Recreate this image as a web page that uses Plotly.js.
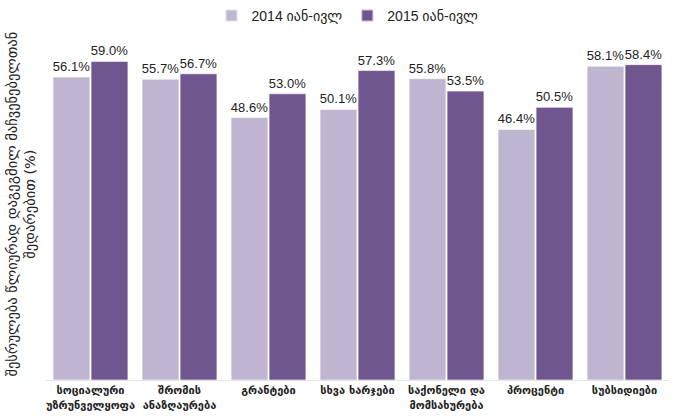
<!DOCTYPE html>
<html>
<head>
<meta charset="utf-8">
<script src="https://cdn.plot.ly/plotly-3.0.1.min.js"></script>
<style>
html,body{margin:0;padding:0;background:#fff;}
#chart{width:674px;height:419px;}
</style>
</head>
<body>
<div id="chart"></div>
<script>
var categories = [
  "სოციალური<br>უზრუნველყოფა",
  "შრომის<br>ანაზღაურება",
  "გრანტები",
  "სხვა ხარჯები",
  "საქონელი და<br>მომსახურება",
  "პროცენტი",
  "სუბსიდიები"
];
var seriesNames = ["2014 იან-ივლ", "2015 იან-ივლ"];
var values2014 = [56.1, 55.7, 48.6, 50.1, 55.8, 46.4, 58.1];
var values2015 = [59.0, 56.7, 53.0, 57.3, 53.5, 50.5, 58.4];
var yTitle = "შესრულება წლიურად დაგეგმილ მაჩვენებელთან<br>შედარებით (%)";

var fontFam = "Liberation Sans, Arial, DejaVu Sans, sans-serif";
function mk(name, vals, color) {
  return {
    type: "bar",
    name: name,
    x: categories,
    y: vals,
    marker: {color: color, line: {color: "rgba(255,255,255,0.6)", width: 1}},
    text: vals.map(function(v){ return v.toFixed(1) + "%"; }),
    textposition: "outside",
    constraintext: "none",
    cliponaxis: false,
    textfont: {family: fontFam, size: 13, color: "#222"},
    hoverinfo: "none"
  };
}
var data = [mk(seriesNames[0], values2014, "#BFB5D0"), mk(seriesNames[1], values2015, "#6F568E")];

var layout = {
  width: 674, height: 419,
  margin: {l: 46, r: 5, t: 29, b: 39, autoexpand: false},
  paper_bgcolor: "#fff", plot_bgcolor: "#fff",
  barmode: "group",
  bargap: 0.146,
  bargroupgap: 0.03,
  showlegend: true,
  legend: {
    orientation: "h", xref: "paper", x: 0.484, xanchor: "center",
    yref: "container", y: 1.0, yanchor: "top",
    font: {family: fontFam, size: 14, color: "#222"},
    itemsizing: "constant", traceorder: "normal", itemwidth: 30
  },
  xaxis: {
    showline: true, linecolor: "#e6e6e6", linewidth: 1,
    ticks: "", showgrid: false, zeroline: false,
    tickfont: {family: "DejaVu Sans, sans-serif", size: 11, color: "#222", weight: "bold"},
    automargin: false
  },
  yaxis: {
    range: [0, 65], showticklabels: false, ticks: "", showgrid: false,
    zeroline: false, showline: false, automargin: false
  },
  annotations: [{
    text: yTitle, xref: "paper", yref: "paper", x: -0.04, y: 0.5,
    xanchor: "center", yanchor: "middle", textangle: -90, showarrow: false,
    font: {family: "DejaVu Sans, sans-serif", size: 14.5, color: "#222"}
  }]
};
Plotly.newPlot("chart", data, layout, {displayModeBar: false, staticPlot: true});
</script>
</body>
</html>
